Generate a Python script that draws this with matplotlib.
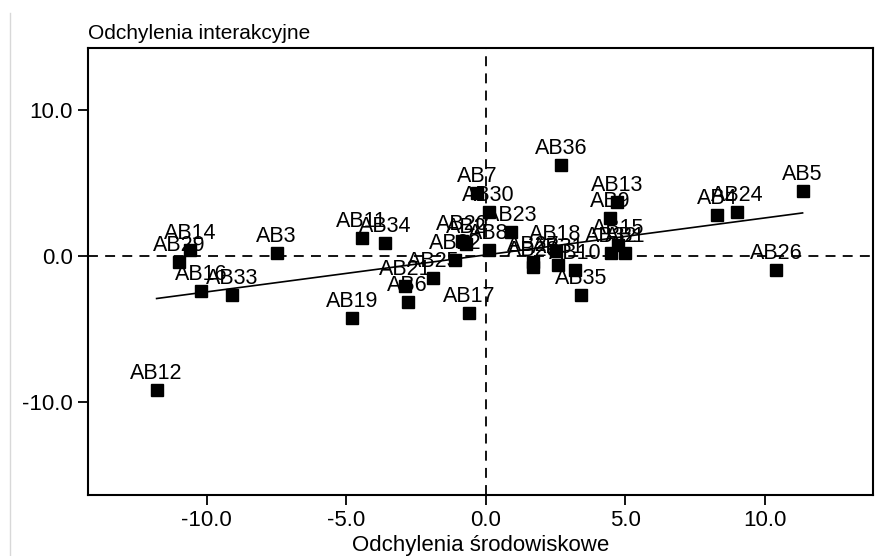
import matplotlib
matplotlib.use("Agg")
from matplotlib import pyplot as plt
from matplotlib.lines import Line2D
import numpy as np

# punkty: odchylenia środowiskowe (x) i interakcyjne (y)
names = ['AB12', 'AB14', 'AB29', 'AB3', 'AB16', 'AB33', 'AB19', 'AB11', 'AB34',
         'AB6', 'AB21', 'AB25', 'AB17', 'AB22', 'AB20', 'AB2', 'AB7', 'AB30',
         'AB23', 'AB8', 'AB27', 'AB28', 'AB18', 'AB31', 'AB10', 'AB35', 'AB36',
         'AB9', 'AB13', 'AB32', 'AB15', 'AB1', 'AB4', 'AB24', 'AB5', 'AB26']
x_env = [-11.8, -10.6, -11.0, -7.5, -10.2, -9.1, -4.8, -4.45, -3.6,
         -2.8, -2.9, -1.9, -0.6, -1.1, -0.85, -0.7, -0.3, 0.1,
         0.9, 0.1, 1.7, 1.7, 2.5, 2.6, 3.2, 3.4, 2.7,
         4.45, 4.7, 4.5, 4.75, 5.0, 8.3, 9.0, 11.35, 10.4]
y_int = [-9.2, 0.4, -0.4, 0.2, -2.4, -2.7, -4.25, 1.2, 0.9,
         -3.2, -2.1, -1.5, -3.9, -0.3, 1.0, 0.8, 4.3, 3.0,
         1.6, 0.4, -0.4, -0.8, 0.3, -0.6, -1.0, -2.7, 6.2,
         2.6, 3.7, 0.2, 0.75, 0.2, 2.8, 3.0, 4.45, -1.0]

xticks = [-10.0, -5.0, 0.0, 5.0, 10.0]
yticks = [-10.0, 0.0, 10.0]

plt.rcParams['font.family'] = ['Liberation Sans', 'DejaVu Sans']

fig = plt.figure(figsize=(8.77, 5.56), dpi=100)
ax = fig.add_axes([0.1003, 0.1097, 0.8947, 0.804])

x = np.array(x_env)
y = np.array(y_int)

ax.axhline(0, color='black', lw=1.3, ls=(0, (5.5, 4)), zorder=1)
ax.axvline(0, color='black', lw=1.3, ls=(0, (5.5, 4)), zorder=1)

# linia regresji
a, b = np.polyfit(x, y, 1)
xs = np.array([x.min(), x.max()])
ax.plot(xs, a * xs + b, color='black', lw=1.2, zorder=2)

ax.plot(x, y, 's', color='black', ms=8.5, zorder=3)
for n, xi, yi in zip(names, x, y):
    ax.annotate(n, (xi, yi), xytext=(0, 8), textcoords='offset points',
                ha='center', va='baseline', fontsize=15.5, zorder=4)

ax.set_xlim(-14.26, 13.86)
ax.set_ylim(-16.4, 14.25)
ax.set_xticks(xticks)
ax.set_yticks(yticks)
ax.set_xticklabels(['%.1f' % t for t in xticks], fontsize=16)
ax.set_yticklabels(['%.1f' % t for t in yticks], fontsize=16)
ax.tick_params(length=7, width=1.3, color='black', pad=4)
for s in ax.spines.values():
    s.set_linewidth(1.5)

ax.set_xlabel('Odchylenia środowiskowe', fontsize=16, labelpad=3)
ax.text(0.0, 1.012, 'Odchylenia interakcyjne', transform=ax.transAxes,
        ha='left', va='bottom', fontsize=15)

fig.add_artist(Line2D([0.011, 0.011], [0.0, 0.977], color='#d8d8d8', lw=1))

fig.savefig('out.png', dpi=100)
